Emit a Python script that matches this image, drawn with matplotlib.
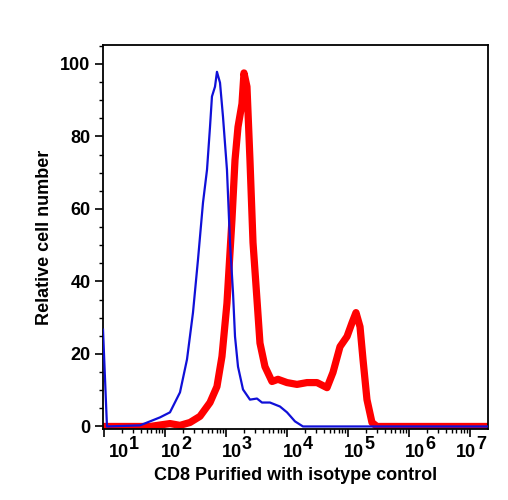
import numpy as np
import matplotlib
matplotlib.use("Agg")
import matplotlib.pyplot as plt
from matplotlib.transforms import ScaledTranslation

plt.rcParams['font.family'] = ['Liberation Sans', 'DejaVu Sans']
plt.rcParams['font.weight'] = 'bold'

# Isotype control (blue): log10 intensity vs relative cell number
blue_log = [0.984, 1.049, 1.59, 1.754, 1.918, 2.082, 2.246, 2.361, 2.459, 2.541, 2.623,
            2.689, 2.738, 2.770, 2.820, 2.852, 2.902, 2.951, 3.016, 3.066, 3.115,
            3.148, 3.197, 3.279, 3.393, 3.508, 3.590, 3.721, 3.885, 4.000, 4.131,
            4.262, 7.295]
blue_val = [26.7, 0.0, 0.3, 1.4, 2.5, 3.9, 9.4, 18.5, 31.4, 46.0, 61.7,
            70.8, 82.6, 91.0, 93.7, 97.8, 94.8, 85.4, 70.8, 50.7, 36.9,
            24.8, 16.5, 10.2, 7.4, 7.7, 6.6, 6.6, 5.5, 3.9, 1.4,
            0.0, 0.0]

# CD8 Purified (red)
red_log = [0.984, 1.754, 2.082, 2.246, 2.410, 2.574, 2.738, 2.852, 2.934, 3.016,
           3.098, 3.148, 3.197, 3.262, 3.295, 3.344, 3.393, 3.443, 3.508, 3.557,
           3.639, 3.754, 3.852, 4.000, 4.164, 4.328, 4.492, 4.656, 4.754, 4.869,
           4.984, 5.066, 5.131, 5.197, 5.246, 5.311, 5.393, 5.475, 7.295]
red_val = [0.0, 0.0, 0.8, 0.3, 1.1, 2.8, 6.6, 11.0, 19.3, 34.0,
           57.0, 73.5, 82.6, 89.0, 97.5, 93.7, 73.5, 50.7, 35.0, 23.0,
           16.5, 12.4, 13.0, 12.1, 11.6, 12.1, 12.1, 10.7, 14.9, 22.0,
           24.8, 28.6, 31.4, 27.5, 18.5, 7.4, 1.1, 0.0, 0.0]

decades = [1, 2, 3, 4, 5, 6, 7]
y_ticks = [0, 20, 40, 60, 80, 100]

fig = plt.figure(figsize=(5.08, 5.0), dpi=100)
ax = fig.add_axes([103/508, 1-429/500, (488-103)/508, (429-45)/500])

ax.plot(10**np.array(blue_log), blue_val, color='#1010d8', lw=1.6, zorder=3)
ax.plot(10**np.array(red_log), red_val, color='#ff0000', lw=5.2, zorder=2,
        solid_joinstyle='round')

ax.set_xscale('log')
ax.set_xlim(10**0.984, 10**7.295)
ax.set_ylim(-0.7, 105.2)

ax.set_xticks([10**d for d in decades])
ax.set_xticklabels([])
ax.xaxis.set_minor_locator(matplotlib.ticker.LogLocator(base=10, subs=np.arange(2, 10)))
ax.xaxis.set_minor_formatter(matplotlib.ticker.NullFormatter())

# tick labels drawn as "10" plus a full-size raised exponent
offsets = {1: 15, 2: 6, 3: 6, 4: 6, 5: 6, 6: 6, 7: -4}
xtr = ax.get_xaxis_transform()
for d in decades:
    base_tr = xtr + ScaledTranslation(offsets[d]/100, -28/100, fig.dpi_scale_trans)
    ax.text(10**d, 0, '10', transform=base_tr, ha='center', va='baseline',
            fontsize=13, fontweight='bold', clip_on=False)
    sup_tr = xtr + ScaledTranslation((offsets[d] + 10)/100, -20/100, fig.dpi_scale_trans)
    ax.text(10**d, 0, str(d), transform=sup_tr, ha='left', va='baseline',
            fontsize=13, fontweight='bold', clip_on=False)

ax.set_yticks(y_ticks)
ax.set_yticklabels([str(v) for v in y_ticks], fontsize=13, fontweight='bold')
ax.yaxis.set_minor_locator(matplotlib.ticker.MultipleLocator(5))

ax.tick_params(axis='both', which='major', direction='out', length=6, width=1.2,
               top=False, right=False, pad=3)
ax.tick_params(axis='both', which='minor', direction='out', length=3, width=1,
               top=False, right=False)
for s in ax.spines.values():
    s.set_linewidth(1.3)

ax.set_xlabel('CD8 Purified with isotype control', fontsize=13, fontweight='bold', labelpad=18)
ax.set_ylabel('Relative cell number', fontsize=13, fontweight='bold', labelpad=5)

fig.savefig('out.png', dpi=100)
